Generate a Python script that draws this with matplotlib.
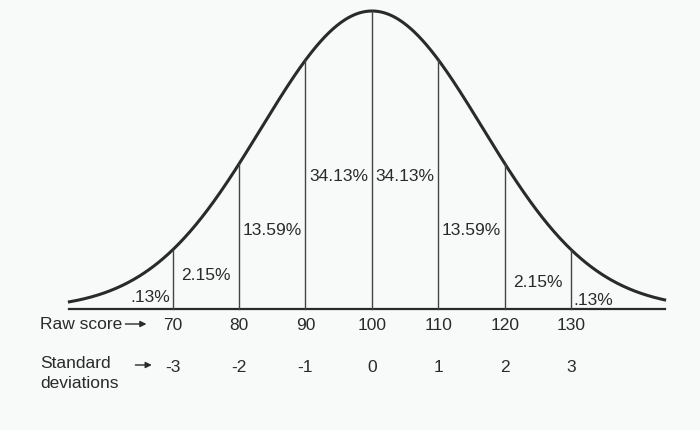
import numpy as np
import matplotlib
matplotlib.use("Agg")
import matplotlib.pyplot as plt

raw_scores = [70, 80, 90, 100, 110, 120, 130]
std_devs = [-3, -2, -1, 0, 1, 2, 3]
pct_labels = [".13%", "2.15%", "13.59%", "34.13%", "34.13%", "13.59%", "2.15%", ".13%"]
pct_z = [-3.33, -2.5, -1.5, -0.5, 0.5, 1.5, 2.5, 3.33]
pct_y = [298, 276, 231, 177, 177, 231, 283, 301]

plt.rcParams['font.family'] = ['Liberation Sans', 'DejaVu Sans']
fig = plt.figure(figsize=(7, 4.31), dpi=100, facecolor='#f8f9f9')
ax = fig.add_axes([0, 0, 1, 1])
ax.set_facecolor('#f8f9f9')
X0, S = 372, 66.5
ax.set_xlim(-X0 / S, (700 - X0) / S)
ax.set_ylim(431, 0)
ax.axis('off')

base, h, k = 310, 298, 0.6
def curve(v):
    return base - h * np.exp(-(k * v)**2 / 2)

z = np.linspace(-4.55, 4.4, 600)
ax.plot(z, curve(z), color='#2a2a2a', lw=2.2)
ax.plot([z[0], z[-1]], [base, base], color='#2a2a2a', lw=1.6)
for s in std_devs:
    ax.plot([s, s], [base, curve(s)], color='#444444', lw=1)

fs = 12.5
col = '#2a2a2a'
for t, zz, yy in zip(pct_labels, pct_z, pct_y):
    ax.text(zz, yy, t, ha='center', va='center', fontsize=fs, color=col)

for s, r in zip(std_devs, raw_scores):
    ax.text(s, 326, str(r), ha='center', va='center', fontsize=fs, color=col)
    ax.text(s, 368, str(s), ha='center', va='center', fontsize=fs, color=col)

lx = 40 / S - X0 / S
ax.text(lx, 325, "Raw score", ha='left', va='center', fontsize=fs, color=col)
ax.annotate("", xy=(-3.35, 325), xytext=(-3.75, 325),
            arrowprops=dict(arrowstyle='-|>', color=col, lw=1, mutation_scale=9))
ax.text(lx, 364, "Standard", ha='left', va='center', fontsize=fs, color=col)
ax.text(lx, 384, "deviations", ha='left', va='center', fontsize=fs, color=col)
ax.annotate("", xy=(-3.27, 366), xytext=(-3.6, 366),
            arrowprops=dict(arrowstyle='-|>', color=col, lw=1, mutation_scale=9))

fig.savefig("out.png", dpi=100, facecolor=fig.get_facecolor())
